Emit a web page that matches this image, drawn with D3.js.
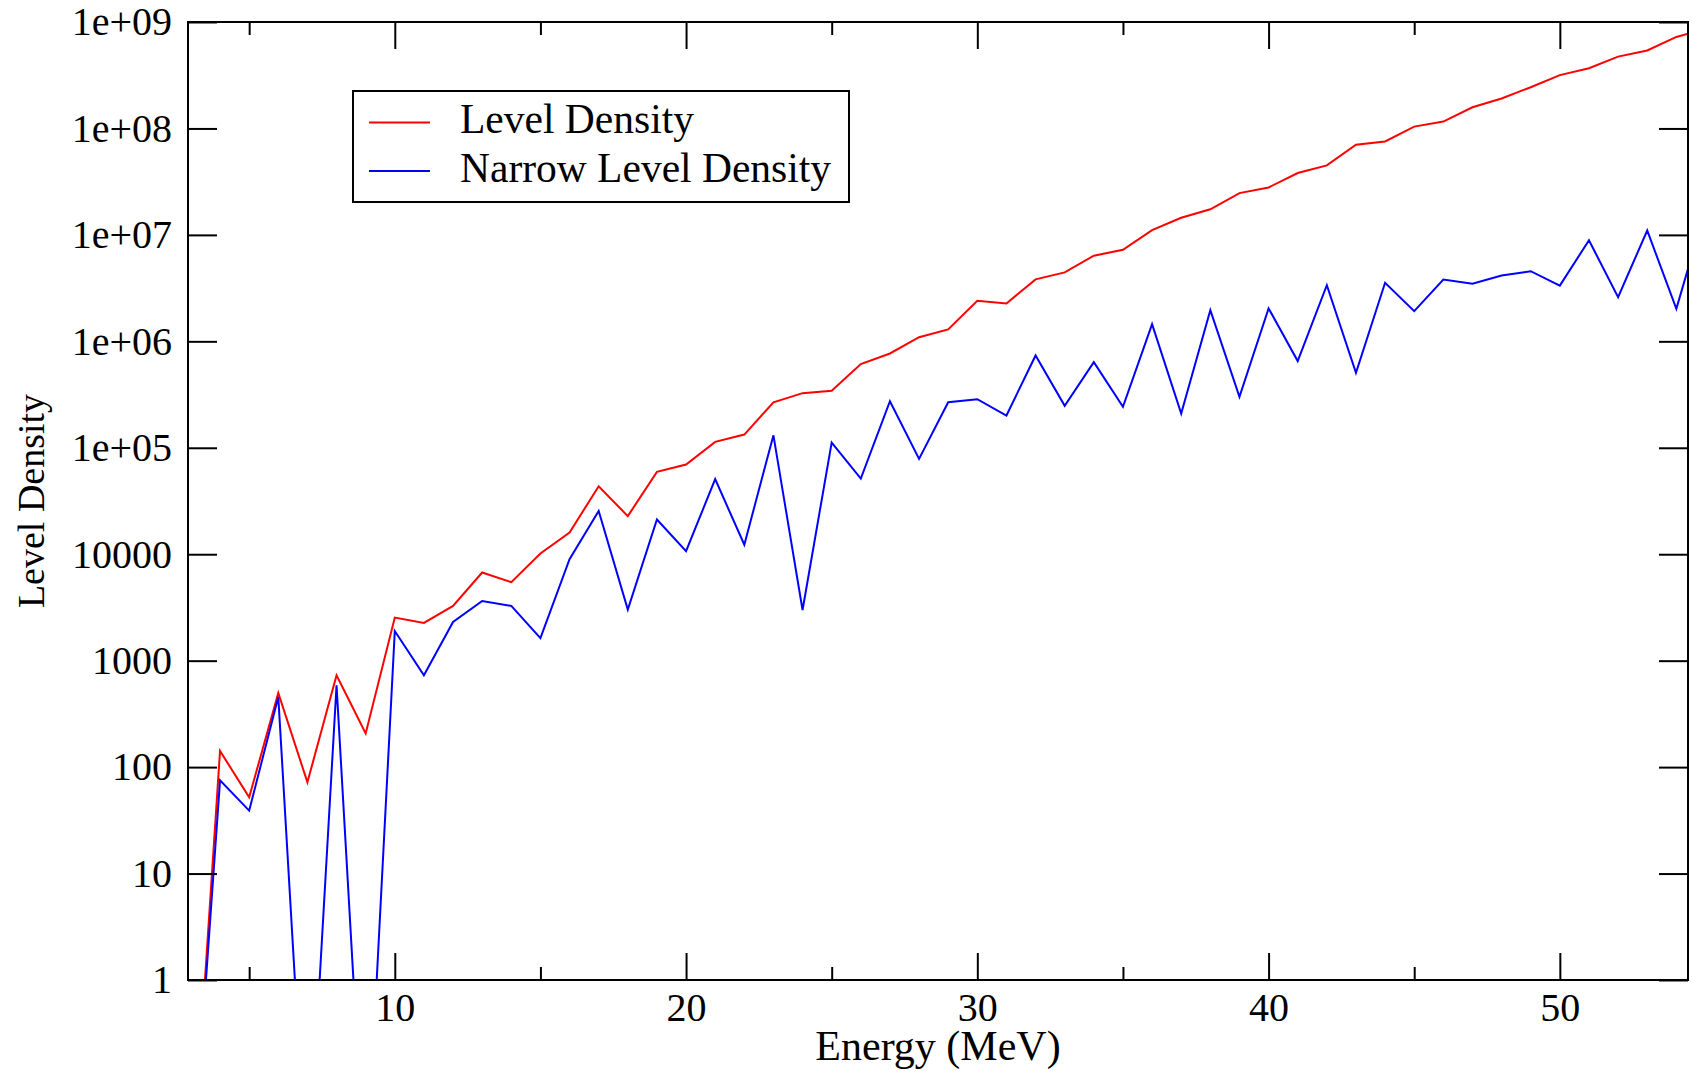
<!DOCTYPE html>
<html lang="en">
<head>
    <meta charset="UTF-8">
    <title>Level Density</title>
    <script src="https://d3js.org/d3.v7.min.js"></script>
    <style>
        body { margin: 0; background: white; }
        text { font-family: "Liberation Serif", "Times New Roman", serif; fill: black; }
    </style>
</head>
<body>
<script>
// data (energy in MeV, one point per MeV)
const energy = d3.range(3, 56);
const levelDensity = [
    0.01, 142, 52, 497, 72, 730, 207, 2540, 2264, 3267,
    6730, 5460, 10170, 16000, 43500, 22800, 59400, 69700, 113700, 133000,
    267000, 326000, 343000, 611000, 769000, 1094000, 1294000, 2400000, 2270000, 3820000,
    4440000, 6370000, 7250000, 1.11e7, 1.45e7, 1.74e7, 2.47e7, 2.79e7, 3.81e7, 4.50e7,
    7.03e7, 7.55e7, 1.04e8, 1.16e8, 1.58e8, 1.91e8, 2.44e8, 3.17e8, 3.68e8, 4.73e8,
    5.4e8, 7.24e8, 8.6e8
];
const narrowDensity = [
    0.01, 75, 39, 456, 0.01, 587, 0.01, 1900, 730, 2310,
    3640, 3270, 1630, 8970, 25500, 3020, 21200, 10700, 50700, 12300,
    131000, 2990, 112000, 51400, 274000, 78700, 268000, 286000, 201000, 736000,
    248000, 638000, 243000, 1450000, 210000, 1960000, 301000, 2040000, 652000, 3370000,
    506000, 3550000, 1920000, 3810000, 3470000, 4150000, 4560000, 3340000, 8900000, 2600000,
    1.1e7, 2.02e6, 1.75e7
];
const xMajor = [10, 20, 30, 40, 50];
const xMinor = [5, 15, 25, 35, 45];
const yTicks = [1, 10, 100, 1000, 10000, 1e5, 1e6, 1e7, 1e8, 1e9];
const yTickLabels = ["1", "10", "100", "1000", "10000", "1e+05", "1e+06", "1e+07", "1e+08", "1e+09"];
const seriesNames = ["Level Density", "Narrow Level Density"];
const seriesColors = ["#ff0000", "#0000ff"];

const W = 1692, H = 1071;
const plotL = 188, plotR = 1688, plotT = 22, plotB = 980;

const svg = d3.select("body").append("svg")
    .attr("width", W)
    .attr("height", H);

const x = d3.scaleLinear().domain([2.9, 54.4]).range([plotL, plotR]);
const y = d3.scaleLog().domain([1, 1e9]).range([plotB, plotT]);

svg.append("clipPath").attr("id", "plotclip")
    .append("rect")
    .attr("x", plotL).attr("y", plotT)
    .attr("width", plotR - plotL).attr("height", plotB - plotT);

// series lines
const line = d3.line()
    .x(d => x(d[0]))
    .y(d => y(d[1]));

[levelDensity, narrowDensity].forEach((vals, i) => {
    svg.append("path")
        .datum(energy.map((e, j) => [e, vals[j]]))
        .attr("clip-path", "url(#plotclip)")
        .attr("d", line)
        .attr("fill", "none")
        .attr("stroke", seriesColors[i])
        .attr("stroke-width", 2)
        .attr("stroke-linejoin", "miter");
});

// axes, ticks pointing inward on all four sides
function styleAxis(g) {
    g.select(".domain").remove();
    g.selectAll(".tick line").attr("stroke", "black").attr("stroke-width", 2);
    g.selectAll("text").style("font-size", "40px").attr("fill", "black");
}

svg.append("g")
    .attr("transform", `translate(0,${plotB})`)
    .call(d3.axisBottom(x).tickValues(xMajor).tickFormat(d3.format("d"))
        .tickSizeInner(-27).tickSizeOuter(0).tickPadding(13))
    .call(styleAxis);
svg.append("g")
    .attr("transform", `translate(0,${plotB})`)
    .call(d3.axisBottom(x).tickValues(xMinor).tickFormat("")
        .tickSizeInner(-13).tickSizeOuter(0))
    .call(styleAxis);
svg.append("g")
    .attr("transform", `translate(0,${plotT})`)
    .call(d3.axisTop(x).tickValues(xMajor).tickFormat("")
        .tickSizeInner(-27).tickSizeOuter(0))
    .call(styleAxis);
svg.append("g")
    .attr("transform", `translate(0,${plotT})`)
    .call(d3.axisTop(x).tickValues(xMinor).tickFormat("")
        .tickSizeInner(-13).tickSizeOuter(0))
    .call(styleAxis);

svg.append("g")
    .attr("transform", `translate(${plotL},0)`)
    .call(d3.axisLeft(y).tickValues(yTicks)
        .tickFormat((d, i) => yTickLabels[i])
        .tickSizeInner(-29).tickSizeOuter(0).tickPadding(16))
    .call(styleAxis);
svg.append("g")
    .attr("transform", `translate(${plotR},0)`)
    .call(d3.axisRight(y).tickValues(yTicks).tickFormat("")
        .tickSizeInner(-29).tickSizeOuter(0))
    .call(styleAxis);

// frame
svg.append("rect")
    .attr("x", plotL).attr("y", plotT)
    .attr("width", plotR - plotL).attr("height", plotB - plotT)
    .attr("fill", "none")
    .attr("stroke", "black")
    .attr("stroke-width", 2);

// axis titles
svg.append("text")
    .attr("x", (plotL + plotR) / 2)
    .attr("y", 1060)
    .attr("text-anchor", "middle")
    .style("font-size", "42px")
    .text("Energy (MeV)");

svg.append("text")
    .attr("transform", `translate(44,${(plotT + plotB) / 2}) rotate(-90)`)
    .attr("text-anchor", "middle")
    .style("font-size", "38px")
    .text("Level Density");

// legend
const legend = svg.append("g").attr("transform", "translate(353,91)");
legend.append("rect")
    .attr("width", 496).attr("height", 111)
    .attr("fill", "white")
    .attr("stroke", "black")
    .attr("stroke-width", 2);

const items = legend.selectAll(".legend-item")
    .data(seriesNames)
    .enter()
    .append("g")
    .attr("class", "legend-item")
    .attr("transform", (d, i) => `translate(0,${31.5 + i * 48.5})`);

items.append("line")
    .attr("x1", 16).attr("x2", 77)
    .attr("stroke", (d, i) => seriesColors[i])
    .attr("stroke-width", 2);

items.append("text")
    .attr("x", 107)
    .attr("y", 10.5)
    .style("font-size", "41.5px")
    .text(d => d);
</script>
</body>
</html>
